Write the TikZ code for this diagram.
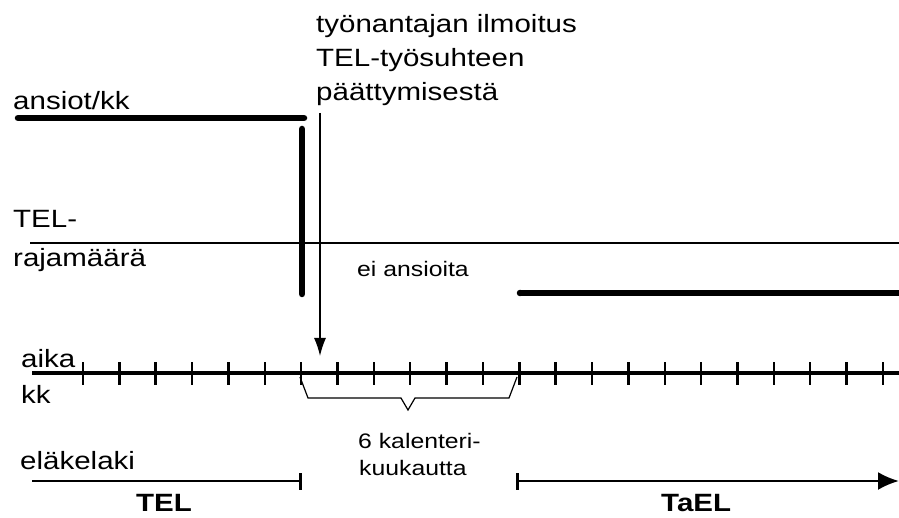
\documentclass[tikz,border=0pt]{standalone}
\usepackage{fontspec}
\setmainfont[FakeStretch=1.18]{Liberation Sans}
\usetikzlibrary{arrows.meta}
\begin{document}
\begin{tikzpicture}[x=1pt,y=-1pt,
  big/.style={inner sep=0pt,anchor=base west,font=\fontsize{25}{34}\selectfont},
  small/.style={inner sep=0pt,anchor=base west,font=\fontsize{21}{26}\selectfont},
  bold/.style={inner sep=0pt,anchor=base west,font=\fontsize{25}{30}\selectfont\bfseries},
  thickbar/.style={line width=6.5pt,line cap=round},
  thinline/.style={line width=2.5pt},
  tickmark/.style={line width=2.5pt},
  bracket/.style={line width=1.2pt,line join=miter}]
\useasboundingbox (0,0) rectangle (899,518);
\fill[white] (0,0) rectangle (899,518);

% texts
\node[big] (notice1) at (316,33) {työnantajan ilmoitus};
\node[big] (notice2) at (316,67) {TEL-työsuhteen};
\node[big] (notice3) at (316,101) {päättymisestä};
\node[big] (ansiot) at (13,110) {ansiot/kk};
\node[big] (tel1) at (13,228) {TEL-};
\node[big] (tel2) at (13,267) {rajamäärä};
\node[small] (ei) at (357,277) {ei ansioita};
\node[big] (aika) at (21,367) {aika};
\node[big] (kk) at (21,403) {kk};
\node[small] (kal1) at (358,448) {6 kalenteri-};
\node[small] (kal2) at (359,475) {kuukautta};
\node[big] (elake) at (20,469) {eläkelaki};
\node[bold] (TEL) at (136,511) {TEL};
\node[bold] (TaEL) at (661,511) {TaEL};

% coordinates
\coordinate (a1) at (18,118);
\coordinate (a2) at (304,118);
\coordinate (v1) at (302,129);
\coordinate (v2) at (302,294);
\coordinate (n1) at (320,113);
\coordinate (n2) at (320,356);
\coordinate (r1) at (30,243);
\coordinate (r2) at (899,243);
\coordinate (b1) at (520,293);
\coordinate (b2) at (899,293);
\coordinate (t1) at (32,373);
\coordinate (t2) at (899,373);
\coordinate (e1) at (32,481);
\coordinate (e2) at (300,481);
\coordinate (f1) at (517,481);
\coordinate (f2) at (899,481);

% earnings
\draw[thickbar] (a1) -- (a2);
\draw[thickbar] (v1) -- (v2);
\draw[thickbar,line cap=butt] (b1) -- (b2);
\fill (b1) circle (3.25pt);
% limit line
\draw[line width=2.2pt] (r1) -- (r2);
% notice arrow
\draw[line width=1.3pt,-{Latex[length=18pt,width=12pt]}] (n1) -- (n2);
% time axis
\draw[line width=3.5pt] (t1) -- (t2);
\foreach \i in {0,...,22}{
  \draw[tickmark] ({83+36.36*\i},362) -- ({83+36.36*\i},385);
}
% bracket
\coordinate (k1) at (300,377);
\coordinate (k2) at (308,398);
\coordinate (k3) at (401,398);
\coordinate (k4) at (408,410);
\coordinate (k5) at (415,398);
\coordinate (k6) at (509,398);
\coordinate (k7) at (517,377);
\draw[bracket] (k1) -- (k2) -- (k3) -- (k4) -- (k5) -- (k6) -- (k7);
% pension laws
\draw[thinline] (e1) -- (e2);
\draw[line width=3pt] (300,473) -- (300,490);
\draw[thinline,-{Latex[length=21pt,width=18pt]}] (f1) -- (f2);
\draw[line width=3pt] (517,473) -- (517,490);
\end{tikzpicture}
\end{document}
